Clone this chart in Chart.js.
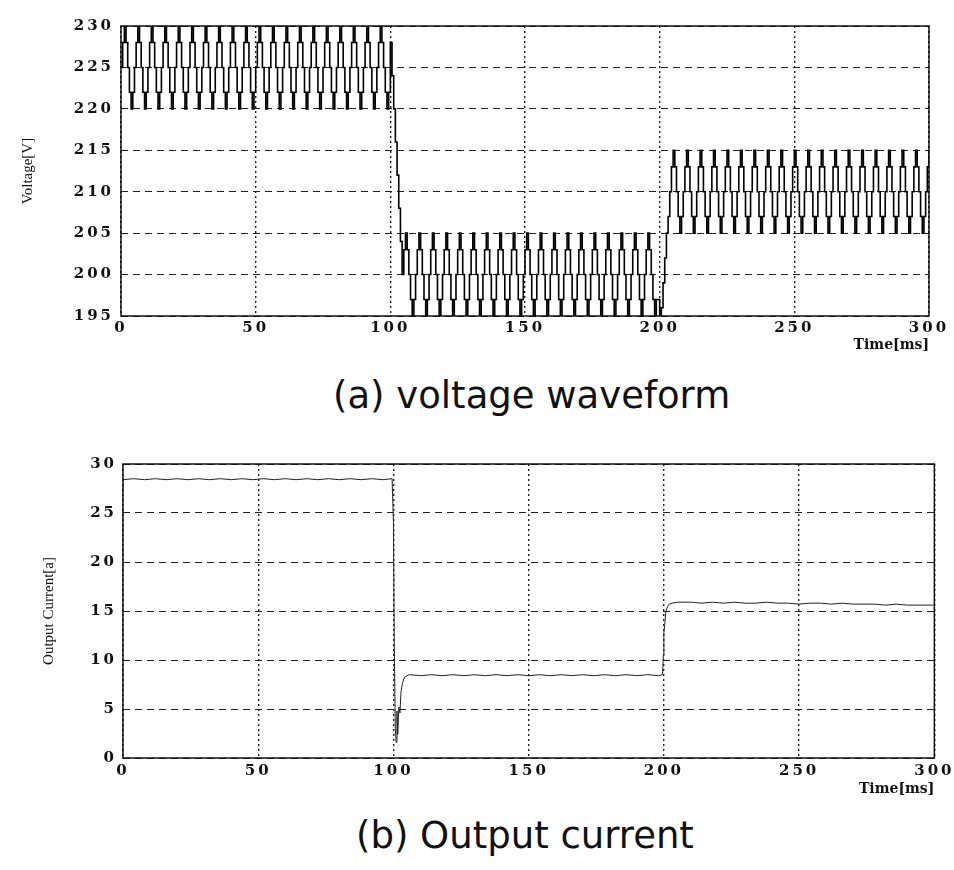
<!DOCTYPE html>
<html>
<head>
<meta charset="utf-8">
<script src="https://cdn.jsdelivr.net/npm/chart.js@4/dist/chart.umd.min.js"></script>
<style>
  body { margin: 0; background: #fff; width: 954px; height: 870px; position: relative; overflow: hidden; }
  .box { position: absolute; left: 0; width: 954px; }
  .cap { position: absolute; white-space: nowrap; font-family: "DejaVu Sans", sans-serif; font-size: 37px; color: #111; line-height: 44px; }
</style>
</head>
<body>
<div class="box" style="top:0;height:356px"><canvas id="voltChart" width="954" height="356"></canvas></div>
<div class="cap" style="top:374px;left:333px">(a) voltage waveform</div>
<div class="box" style="top:430px;height:370px"><canvas id="currChart" width="954" height="370"></canvas></div>
<div class="cap" style="top:814px;left:356px">(b) Output current</div>
<script>
// sample spacing of the voltage trace (ms)
const dt = 0.625;

// voltage samples, 0..300 ms
const voltage = [
  225,228,230,228,225,222,220,222,225,228,230,228,225,222,220,222,
  225,228,230,228,225,222,220,222,225,228,230,228,225,222,220,222,
  225,228,230,228,225,222,220,222,225,228,230,228,225,222,220,222,
  225,228,230,228,225,222,220,222,225,228,230,228,225,222,220,222,
  225,228,230,228,225,222,220,222,225,228,230,228,225,222,220,222,
  225,228,230,228,225,222,220,222,225,228,230,228,225,222,220,222,
  225,228,230,228,225,222,220,222,225,228,230,228,225,222,220,222,
  225,228,230,228,225,222,220,222,225,228,230,228,225,222,220,222,
  225,228,230,228,225,222,220,222,225,228,230,228,225,222,220,222,
  225,228,230,228,225,222,220,222,225,228,230,228,225,222,220,222,
  228,224,220,216,212,208,204,
  200,203,205,203,200,197,195,197,200,203,205,203,200,197,195,197,
  200,203,205,203,200,197,195,197,200,203,205,203,200,197,195,197,
  200,203,205,203,200,197,195,197,200,203,205,203,200,197,195,197,
  200,203,205,203,200,197,195,197,200,203,205,203,200,197,195,197,
  200,203,205,203,200,197,195,197,200,203,205,203,200,197,195,197,
  200,203,205,203,200,197,195,197,200,203,205,203,200,197,195,197,
  200,203,205,203,200,197,195,197,200,203,205,203,200,197,195,197,
  200,203,205,203,200,197,195,197,200,203,205,203,200,197,195,197,
  200,203,205,203,200,197,195,197,200,203,205,203,200,197,195,197,
  200,203,205,203,200,197,195,197,
  197,195,196,199,202,205,207,
  210,213,215,213,210,207,205,207,210,213,215,213,210,207,205,207,
  210,213,215,213,210,207,205,207,210,213,215,213,210,207,205,207,
  210,213,215,213,210,207,205,207,210,213,215,213,210,207,205,207,
  210,213,215,213,210,207,205,207,210,213,215,213,210,207,205,207,
  210,213,215,213,210,207,205,207,210,213,215,213,210,207,205,207,
  210,213,215,213,210,207,205,207,210,213,215,213,210,207,205,207,
  210,213,215,213,210,207,205,207,210,213,215,213,210,207,205,207,
  210,213,215,213,210,207,205,207,210,213,215,213,210,207,205,207,
  210,213,215,213,210,207,205,207,210,213,215,213,210,207,205,207,
  210,213,215,213,210,207,205,207,
  210,213,215
];

// output current, time (ms) and value (A)
const curT = [
  0,4,8,12,16,20,24,28,32,36,40,44,48,52,56,60,64,68,72,76,80,84,88,92,96,99.5,
  100,100.3,100.7,101,101.3,101.6,102,102.4,102.8,103.3,104,105,106,
  110,114,118,122,126,130,134,138,142,146,150,154,158,162,166,170,174,178,182,186,190,194,198,199.5,
  199.8,200,200.3,200.7,201,201.5,202,203,205,
  210,214,218,222,226,230,234,238,242,246,250,254,258,262,266,270,274,278,282,286,290,294,298,300
];
const curA = [
  28.4,28.5,28.4,28.5,28.4,28.5,28.4,28.5,28.4,28.5,28.4,28.5,28.4,28.5,28.4,28.5,28.4,28.5,28.4,28.5,28.4,28.5,28.4,28.5,28.4,28.5,
  24.0,12.0,3.0,1.6,4.8,2.4,5.2,4.6,6.8,7.6,8.2,8.4,8.5,
  8.4,8.5,8.4,8.5,8.4,8.5,8.4,8.5,8.4,8.5,8.4,8.5,8.4,8.5,8.4,8.5,8.4,8.5,8.4,8.5,8.4,8.5,8.4,8.5,
  10.5,12.8,13.6,14.9,15.2,15.5,15.7,15.8,15.9,
  15.9,15.8,15.9,15.8,15.9,15.8,15.8,15.9,15.8,15.8,15.7,15.8,15.8,15.7,15.8,15.7,15.7,15.7,15.6,15.7,15.6,15.6,15.6,15.6
];

const timeTicks = [0, 50, 100, 150, 200, 250, 300];

const tickFont = { family: 'DejaVu Serif', size: 15, weight: 'bold' };

// solid frame round the plot, wide letter spacing for the tick numbers
const framePlugin = {
  id: 'frame',
  afterDatasetsDraw(chart) {
    chart.ctx.letterSpacing = '3px';
  },
  afterDraw(chart) {
    const ctx = chart.ctx;
    const a = chart.chartArea;
    ctx.save();
    ctx.letterSpacing = '0px';
    ctx.strokeStyle = '#111';
    ctx.lineWidth = 1.5;
    ctx.setLineDash([]);
    ctx.strokeRect(a.left, a.top, a.right - a.left, a.bottom - a.top);
    ctx.restore();
    ctx.letterSpacing = '0px';
  }
};

function makeChart(id, points, opts) {
  return new Chart(document.getElementById(id), {
    type: 'line',
    data: {
      datasets: [{
        data: points,
        borderColor: opts.lineColor,
        borderWidth: opts.lineWidth,
        stepped: opts.stepped,
        pointRadius: 0,
        tension: 0
      }]
    },
    options: {
      responsive: false,
      animation: false,
      events: [],
      layout: { padding: opts.padding },
      plugins: { legend: { display: false }, tooltip: { enabled: false } },
      scales: {
        x: {
          type: 'linear',
          min: 0,
          max: 300,
          afterFit: s => { s.height = opts.xHeight; },
          afterBuildTicks: s => { s.ticks = timeTicks.map(v => ({ value: v })); },
          ticks: { font: tickFont, color: '#111', padding: opts.xPad, maxRotation: 0, z: 1 },
          grid: { drawTicks: false, color: '#222', lineWidth: 1.4, z: 0 },
          border: { display: false, dash: [2, 3] },
          title: {
            display: true,
            text: 'Time[ms]',
            align: 'end',
            color: '#111',
            font: { family: 'DejaVu Serif', size: 14, weight: 'bold' },
            padding: { top: 0, bottom: 2 }
          }
        },
        y: {
          min: opts.yMin,
          max: opts.yMax,
          afterFit: s => { s.width = opts.yWidth; },
          ticks: { stepSize: 5, font: tickFont, color: '#111', padding: opts.yPad, z: 1 },
          grid: { drawTicks: false, color: '#222', lineWidth: 1, z: 0 },
          border: { display: false, dash: [7, 5] },
          title: {
            display: true,
            text: opts.yTitle,
            color: '#111',
            font: { family: 'Liberation Serif', size: 15 },
            padding: 4
          }
        }
      }
    },
    plugins: [framePlugin]
  });
}

makeChart('voltChart', voltage.map((v, i) => ({ x: i * dt, y: v })), {
  lineColor: '#000',
  lineWidth: 1.6,
  stepped: true,
  padding: { top: 26, right: 25, left: 15, bottom: 0 },
  xHeight: 40,
  yWidth: 106,
  xPad: 3,
  yPad: 7,
  yMin: 195,
  yMax: 230,
  yTitle: 'Voltage[V]'
});

makeChart('currChart', curT.map((t, i) => ({ x: t, y: curA[i] })), {
  lineColor: '#222',
  lineWidth: 1,
  stepped: false,
  padding: { top: 34, right: 18, left: 36, bottom: 0 },
  xHeight: 42,
  yWidth: 87,
  xPad: 4,
  yPad: 6,
  yMin: 0,
  yMax: 30,
  yTitle: 'Output Current[a]'
});
</script>
</body>
</html>
